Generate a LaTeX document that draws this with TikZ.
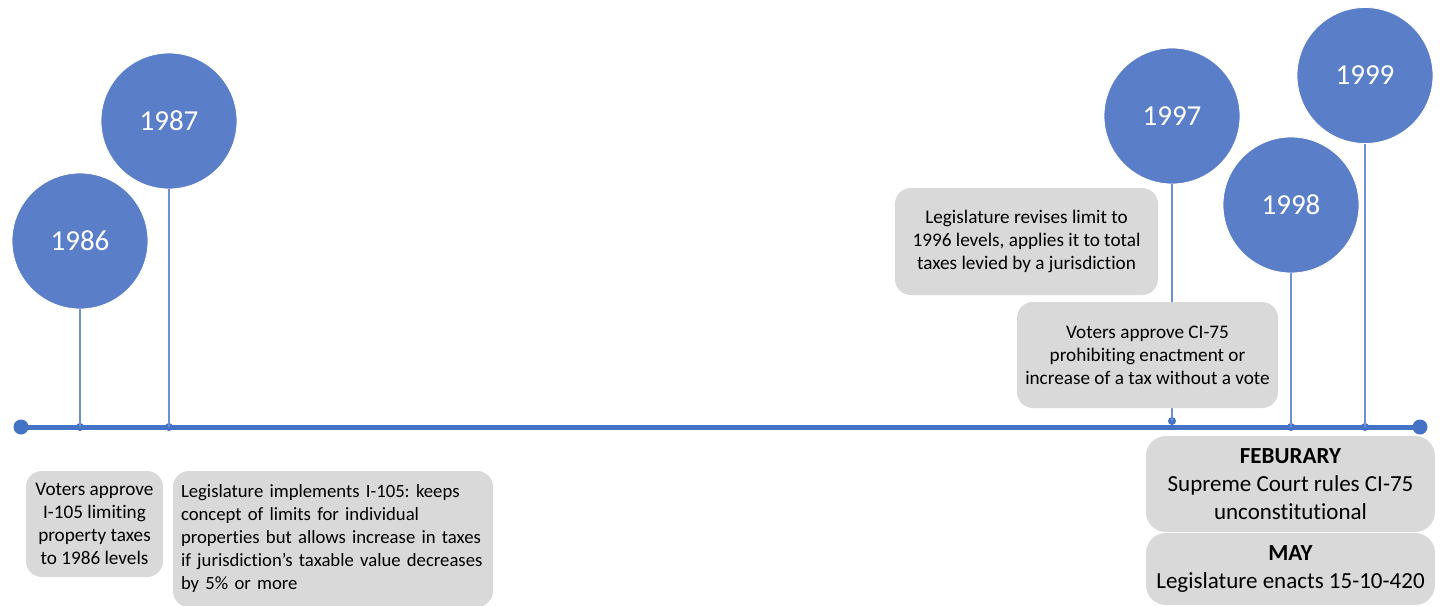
\documentclass[tikz,border=0pt]{standalone}
\usepackage{fontspec}
\setmainfont{Carlito}[Ligatures={NoCommon}]
\definecolor{circ}{HTML}{5A7FC8}
\definecolor{tl}{HTML}{4472C4}
\definecolor{stemc}{HTML}{6D8FD3}
\definecolor{boxc}{HTML}{D9D9D9}
\begin{document}
\frenchspacing
\begin{tikzpicture}[x=1pt,y=-1pt,
  year/.style={circle, fill=circ, draw=white, line width=0.8pt, minimum size=136pt, inner sep=0pt, text=white, font=\fontsize{29}{34}\selectfont},
  stemline/.style={draw=stemc, line width=2pt},
  tick/.style={circle, fill=tl, minimum size=8pt, inner sep=0pt},
  enddot/.style={circle, fill=tl, minimum size=15pt, inner sep=0pt},
  evbox/.style={fill=boxc, rounded corners=16pt, inner sep=0pt, font=\fontsize{19.2}{23}\selectfont},
  bigbox/.style={fill=boxc, rounded corners=20pt, inner sep=0pt, font=\fontsize{23}{28}\selectfont, align=center, minimum width=289pt}
]
\clip (0,0) rectangle (1440,605);
\fill[white] (0,0) rectangle (1440,605);

% year circles
\node[year] (c86) at (80,241) {1986};
\node[year] (c87) at (169,121) {1987};
\node[year] (c97) at (1172,116) {1997};
\node[year] (c98) at (1291,205) {1998};
\node[year] (c99) at (1365,75.5) {1999};

% timeline
\node[enddot] (tstart) at (21,427) {};
\node[enddot] (tend) at (1420,427) {};
\draw[tl, line width=5pt] (tstart.center) -- (tend.center);

% ticks
\node[tick] (d86) at (80,427) {};
\node[tick] (d87) at (169,427) {};
\node[tick] (d97) at (1172,421) {};
\node[tick] (d98) at (1291,427) {};
\node[tick] (d99) at (1365,427) {};

% stems
\draw[stemline] (c86.south) -- (d86.center);
\draw[stemline] (c87.south) -- (d87.center);
\draw[stemline] (c97.south) -- (d97.center);
\draw[stemline] (c98.south) -- (d98.center);
\draw[stemline] (c99.south) -- (d99.center);

% event boxes
\node[evbox, minimum width=137pt, minimum height=106pt, align=center] (b1) at (94.5,524)
  {Voters approve\\I-105 limiting\\property taxes\\to 1986 levels};
\node[evbox, inner xsep=8pt, text width=304pt, minimum height=136pt, align=left, font=\fontsize{18.7}{23}\selectfont] (b2) at (333,539)
  {Legislature implements I-105: keeps\\concept of limits for individual\\properties but allows increase in taxes\\if jurisdiction\symbol{39}s taxable value decreases\\by 5\% or more};
\node[evbox, minimum width=263pt, minimum height=107pt, align=center] (b3) at (1026.5,241.5)
  {Legislature revises limit to\\1996 levels, applies it to total\\taxes levied by a jurisdiction};
\node[evbox, minimum width=261pt, minimum height=106pt, align=center] (b4) at (1147.5,355)
  {Voters approve CI-75\\prohibiting enactment or\\increase of a tax without a vote};
\node[bigbox, minimum height=96pt] (b5) at (1290.5,484)
  {\textbf{FEBURARY}\\Supreme Court rules CI-75\\unconstitutional};
\node[bigbox, minimum height=72pt] (b6) at (1290.5,569)
  {\textbf{MAY}\\Legislature enacts 15-10-420};
\end{tikzpicture}
\end{document}
